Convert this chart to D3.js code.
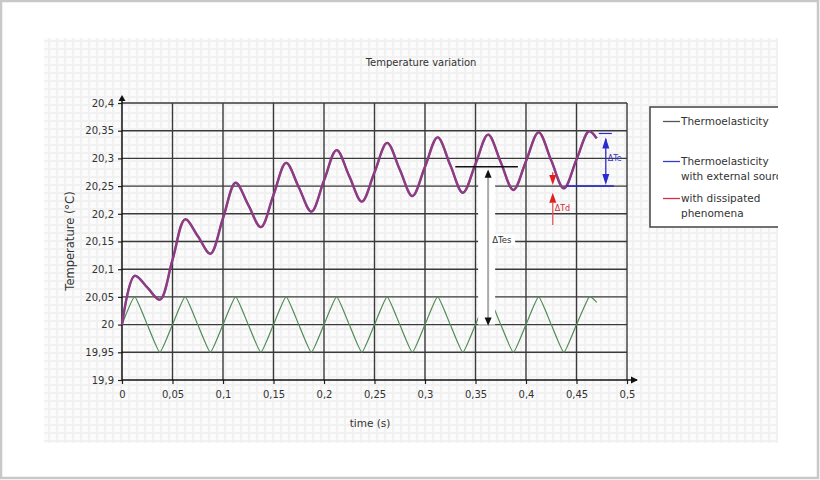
<!DOCTYPE html>
<html><head><meta charset="utf-8">
<script src="https://cdn.jsdelivr.net/npm/d3@7"></script>
<style>
html,body{margin:0;padding:0;background:#fff;}
svg{display:block;font-family:"DejaVu Sans",Verdana,sans-serif;}
</style></head>
<body>
<svg id="c" width="820" height="480"></svg>
<script>
// ---- data ----
const xTicks = [0, 0.05, 0.1, 0.15, 0.2, 0.25, 0.3, 0.35, 0.4, 0.45, 0.5];
const xTickLabels = ["0","0,05","0,1","0,15","0,2","0,25","0,3","0,35","0,4","0,45","0,5"];
const yTicks = [19.9, 19.95, 20, 20.05, 20.1, 20.15, 20.2, 20.25, 20.3, 20.35, 20.4];
const yTickLabels = ["19,9","19,95","20","20,05","20,1","20,15","20,2","20,25","20,3","20,35","20,4"];

const timeGreen = [0,0.0125,0.025,0.0375,0.05,0.0625,0.075,0.0875,0.1,0.1125,0.125,0.1375,0.15,0.1625,0.175,0.1875,0.2,0.2125,0.225,0.2375,0.25,0.2625,0.275,0.2875,0.3,0.3125,0.325,0.3375,0.35,0.3625,0.375,0.3875,0.4,0.4125,0.425,0.4375,0.45,0.4625,0.47];
const thermo = [20,20.05,20,19.95,20,20.05,20,19.95,20,20.05,20,19.95,20,20.05,20,19.95,20,20.05,20,19.95,20,20.05,20,19.95,20,20.05,20,19.95,20,20.05,20,19.95,20,20.05,20,19.95,20,20.05,20.04];

const timeExt = [0,0.0125,0.025,0.0375,0.05,0.0625,0.075,0.0875,0.1,0.1125,0.125,0.1375,0.15,0.1625,0.175,0.1875,0.2,0.2125,0.225,0.2375,0.25,0.2625,0.275,0.2875,0.3,0.3125,0.325,0.3375,0.35,0.3625,0.375,0.3875,0.4,0.4125,0.425,0.4375,0.45,0.4625,0.47];
const thermoExt = [20,20.088,20.067,20.045,20.117,20.19,20.16,20.128,20.192,20.256,20.216,20.176,20.234,20.292,20.248,20.204,20.26,20.315,20.268,20.222,20.275,20.328,20.28,20.232,20.285,20.338,20.288,20.238,20.29,20.343,20.293,20.243,20.295,20.347,20.296,20.246,20.298,20.349,20.336];
const thermoDiss = [20,20.088,20.067,20.045,20.117,20.19,20.16,20.128,20.192,20.256,20.216,20.176,20.234,20.292,20.248,20.204,20.26,20.315,20.268,20.222,20.275,20.328,20.28,20.232,20.285,20.338,20.288,20.238,20.29,20.343,20.293,20.243,20.295,20.347,20.296,20.246,20.298,20.349,20.336];

const legendLabels = [["Thermoelasticity"],["Thermoelasticity","with external source"],["with dissipated","phenomena"]];
const legendColors = ["#555555","#3a3ac8","#d0304a"];

// ---- drawing ----
const svg = d3.select("#c");
const defs = svg.append("defs");
const pat = defs.append("pattern").attr("id","tex").attr("patternUnits","userSpaceOnUse")
  .attr("width",8).attr("height",8);
pat.append("rect").attr("width",8).attr("height",8).attr("fill","#fbfbfb");
pat.append("rect").attr("x",0).attr("y",0).attr("width",8).attr("height",2).attr("fill","#f1f1f1");
pat.append("rect").attr("x",0).attr("y",0).attr("width",2).attr("height",8).attr("fill","#f1f1f1");
defs.append("clipPath").attr("id","legclip").append("rect").attr("x",640).attr("y",100).attr("width",138).attr("height",140);

// outer frame
svg.append("rect").attr("x",1).attr("y",1).attr("width",817).attr("height",477)
  .attr("fill","#fff").attr("stroke","#c8c8c8").attr("stroke-width",2.5);
svg.append("rect").attr("x",44).attr("y",38).attr("width",734).attr("height",405).attr("fill","url(#tex)");

const x = d3.scaleLinear().domain([0,0.5]).range([122,627]);
const y = d3.scaleLinear().domain([19.9,20.4]).range([380,103]);

const gridCol = "#3a3a3a";
// grid
svg.append("g").selectAll("line").data(yTicks.slice(1)).join("line")
  .attr("x1",x(0)).attr("x2",x(0.5)).attr("y1",d=>y(d)).attr("y2",d=>y(d))
  .attr("stroke",gridCol).attr("stroke-width",1.4);
svg.append("g").selectAll("line").data(xTicks.slice(1)).join("line")
  .attr("x1",d=>x(d)).attr("x2",d=>x(d)).attr("y1",y(19.9)).attr("y2",y(20.4))
  .attr("stroke",gridCol).attr("stroke-width",1.4);

// axes
const yAxis = d3.axisLeft(y).tickValues(yTicks).tickFormat((d,i)=>yTickLabels[i]).tickSize(4).tickSizeOuter(0).tickPadding(4);
const gy = svg.append("g").attr("transform",`translate(${x(0)},0)`).call(yAxis);
const xAxis = d3.axisBottom(x).tickValues(xTicks).tickFormat((d,i)=>xTickLabels[i]).tickSize(4).tickSizeOuter(0).tickPadding(7);
const gx = svg.append("g").attr("transform",`translate(0,${y(19.9)})`).call(xAxis);
[gx,gy].forEach(g=>{
  g.select(".domain").remove();
  g.selectAll(".tick line").attr("stroke","#222").attr("stroke-width",1.2);
  g.selectAll(".tick text").attr("font-size",10).attr("fill","#333").attr("font-family","DejaVu Sans, Verdana, sans-serif");
});
svg.append("line").attr("x1",x(0)).attr("x2",x(0)).attr("y1",y(19.9)).attr("y2",97).attr("stroke","#111").attr("stroke-width",1.5);
svg.append("line").attr("x1",x(0)).attr("x2",637).attr("y1",y(19.9)).attr("y2",y(19.9)).attr("stroke","#111").attr("stroke-width",1.5);
svg.append("path").attr("d",`M${x(0)-3.5},${101} L${x(0)},${95} L${x(0)+3.5},${101} Z`).attr("fill","#111");
svg.append("path").attr("d",`M631,${y(19.9)-3.5} L638,${y(19.9)} L631,${y(19.9)+3.5} Z`).attr("fill","#111");

// titles
svg.append("text").attr("x",421).attr("y",66).attr("text-anchor","middle").attr("font-size",10).attr("fill","#333").text("Temperature variation");
svg.append("text").attr("x",370).attr("y",427).attr("text-anchor","middle").attr("font-size",10.5).attr("fill","#333").text("time (s)");
svg.append("text").attr("transform","translate(74,241) rotate(-90)").attr("text-anchor","middle").attr("font-size",11.5).attr("fill","#333").text("Temperature (°C)");

// series
const lineG = d3.line().x((d,i)=>x(timeGreen[i])).y(d=>y(d)).curve(d3.curveCardinal.tension(0.55));
const lineP = d3.line().x((d,i)=>x(timeExt[i])).y(d=>y(d)).curve(d3.curveCatmullRom.alpha(0.5));
svg.append("path").datum(thermo).attr("d",lineG).attr("fill","none").attr("stroke","#4f8a55").attr("stroke-width",1.2);
svg.append("path").datum(thermoExt).attr("d",lineP).attr("fill","none").attr("stroke","#4a3aa8").attr("stroke-width",2.4);
svg.append("path").datum(thermoDiss).attr("d",lineP).attr("fill","none").attr("stroke","#d03a5a").attr("stroke-width",2.2).attr("stroke-opacity",0.55);

// annotation: black dTes
const ax = x(0.3625);
svg.append("rect").attr("x",ax-10).attr("y",y(20.28)).attr("width",17).attr("height",y(20.0)-y(20.28)).attr("fill","#fff");
svg.append("line").attr("x1",x(0.33)).attr("x2",x(0.392)).attr("y1",y(20.285)).attr("y2",y(20.285)).attr("stroke","#111").attr("stroke-width",1.4);
svg.append("line").attr("x1",ax).attr("x2",ax).attr("y1",y(20.27)).attr("y2",y(20.01)).attr("stroke","#aaa").attr("stroke-width",2);
svg.append("path").attr("d",`M${ax-3.5},${y(20.265)} L${ax},${y(20.28)} L${ax+3.5},${y(20.265)} Z`).attr("fill","#111");
svg.append("path").attr("d",`M${ax-3.5},${y(20.013)} L${ax},${y(19.998)} L${ax+3.5},${y(20.013)} Z`).attr("fill","#111");
svg.append("rect").attr("x",ax+3).attr("y",y(20.163)).attr("width",24).attr("height",11).attr("fill","#fff");
svg.append("text").attr("x",ax+4).attr("y",y(20.148)).attr("font-size",8.5).attr("fill","#333").text("ΔTes");

// annotation: blue dTe
const bx = x(0.479);
svg.append("line").attr("x1",x(0.44)).attr("x2",x(0.487)).attr("y1",y(20.25)).attr("y2",y(20.25)).attr("stroke","#2a2ad0").attr("stroke-width",1.5);
svg.append("line").attr("x1",x(0.472)).attr("x2",x(0.485)).attr("y1",y(20.345)).attr("y2",y(20.345)).attr("stroke","#2a2ad0").attr("stroke-width",1.2);
svg.append("line").attr("x1",bx).attr("x2",bx).attr("y1",y(20.335)).attr("y2",y(20.26)).attr("stroke","#2a2ad0").attr("stroke-width",1.3);
svg.append("path").attr("d",`M${bx-3.5},${y(20.318)} L${bx},${y(20.338)} L${bx+3.5},${y(20.318)} Z`).attr("fill","#2a2ad0");
svg.append("path").attr("d",`M${bx-3.5},${y(20.272)} L${bx},${y(20.252)} L${bx+3.5},${y(20.272)} Z`).attr("fill","#2a2ad0");
svg.append("text").attr("x",bx+2).attr("y",y(20.295)).attr("font-size",8).attr("fill","#3535c0").text("ΔTe");

// annotation: red dTd
const rx = x(0.4265);
svg.append("line").attr("x1",rx).attr("x2",rx).attr("y1",y(20.275)).attr("y2",y(20.26)).attr("stroke","#e03030").attr("stroke-width",1.2);
svg.append("path").attr("d",`M${rx-3.5},${y(20.27)} L${rx},${y(20.252)} L${rx+3.5},${y(20.27)} Z`).attr("fill","#e02020");
svg.append("path").attr("d",`M${rx-3.5},${y(20.22)} L${rx},${y(20.238)} L${rx+3.5},${y(20.22)} Z`).attr("fill","#e02020");
svg.append("line").attr("x1",rx).attr("x2",rx).attr("y1",y(20.22)).attr("y2",y(20.18)).attr("stroke","#e05050").attr("stroke-width",1.2);
svg.append("text").attr("x",rx+2).attr("y",y(20.205)).attr("font-size",8).attr("fill","#d03030").text("ΔTd");

// legend
const leg = svg.append("g").attr("clip-path","url(#legclip)");
leg.append("rect").attr("x",650).attr("y",107).attr("width",140).attr("height",120).attr("fill","#fff").attr("stroke","#444").attr("stroke-width",1.5);
const legY = [125,165,202];
legendLabels.forEach((lines,i)=>{
  leg.append("line").attr("x1",663).attr("x2",680).attr("y1",legY[i]-3.5).attr("y2",legY[i]-3.5).attr("stroke",legendColors[i]).attr("stroke-width",1.3);
  lines.forEach((t,j)=>{
    leg.append("text").attr("x",681).attr("y",legY[i]+j*14.5).attr("font-size",10.5).attr("fill","#333").text(t);
  });
});
</script>
</body></html>
